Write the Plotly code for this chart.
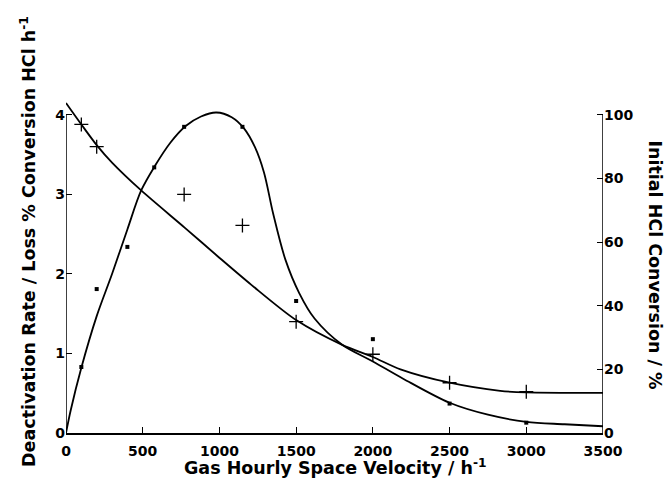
import plotly.graph_objects as go

# Smooth fitted curves
curve_conv_x = [0, 100, 200, 300, 490, 775, 990, 1210, 1500, 1800, 2000, 2180, 2500, 2830, 3000, 3500]
curve_conv_y = [103.75, 97, 90.5, 85, 76.25, 64.5, 55.5, 46.5, 35.5, 27.7, 23.9, 20, 15.8, 13.25, 12.75, 12.6]  # %

curve_deact_x = [0, 30, 100, 200, 300, 400, 490, 580, 680, 780, 880, 980, 1080, 1160, 1230, 1290, 1350,
                 1430, 1520, 1620, 1800, 2000, 2200, 2500, 2750, 3000, 3250, 3500]
curve_deact_y = [0, 0.28, 0.82, 1.47, 2.0, 2.56, 3.05, 3.36, 3.65, 3.86, 3.98, 4.03, 3.97, 3.83, 3.6, 3.28, 2.76,
                 2.18, 1.76, 1.44, 1.11, 0.9, 0.68, 0.38, 0.23, 0.14, 0.11, 0.085]

# Measured points
conv_pts_x = [100, 200, 770, 1150, 1500, 2000, 2500, 3000]
conv_pts_y = [97, 90, 75, 65.25, 35, 24.75, 15.8, 13]  # %

deact_pts_x = [100, 200, 400, 575, 770, 1150, 1500, 2000, 2500, 3000]
deact_pts_y = [0.83, 1.81, 2.34, 3.34, 3.85, 3.85, 1.66, 1.18, 0.37, 0.13]

x_ticks = [0, 500, 1000, 1500, 2000, 2500, 3000, 3500]
left_ticks = [0, 1, 2, 3, 4]
right_ticks = [0, 20, 40, 60, 80, 100]

FONT = "DejaVu Sans"
tickfont = dict(family=FONT, size=14, color="black", weight="bold")
titlefont = dict(family=FONT, size=17.5, color="black", weight="bold")

fig = go.Figure()
fig.add_trace(go.Scatter(x=curve_deact_x, y=curve_deact_y, mode="lines",
                         line=dict(color="black", width=1.8, shape="spline", smoothing=0.9),
                         yaxis="y", showlegend=False, hoverinfo="skip"))
fig.add_trace(go.Scatter(x=curve_conv_x, y=curve_conv_y, mode="lines",
                         line=dict(color="black", width=1.8, shape="spline", smoothing=0.8),
                         yaxis="y2", showlegend=False, hoverinfo="skip"))
fig.add_trace(go.Scatter(x=deact_pts_x, y=deact_pts_y, mode="markers",
                         marker=dict(symbol="square", size=4, color="black"),
                         yaxis="y", showlegend=False))
fig.add_trace(go.Scatter(x=conv_pts_x, y=conv_pts_y, mode="markers",
                         marker=dict(symbol="cross-thin", size=10, line=dict(color="black", width=1.3)),
                         yaxis="y2", showlegend=False))

LMAX = 4.2
fig.update_layout(
    width=670, height=487,
    margin=dict(l=66, r=67, t=99, b=54),
    paper_bgcolor="white", plot_bgcolor="white",
    xaxis=dict(range=[0, 3500], tickvals=x_ticks, ticks="inside", ticklen=6, tickcolor="black",
               showline=True, linecolor="black", linewidth=1.5, showgrid=False, zeroline=False,
               tickfont=tickfont, ticklabelstandoff=4),
    yaxis=dict(range=[0, LMAX], tickvals=left_ticks, ticks="inside", ticklen=6, tickcolor="black",
               showline=False, showgrid=False, zeroline=False, tickfont=tickfont),
    yaxis2=dict(range=[0, LMAX * 25], tickvals=right_ticks, ticks="inside", ticklen=6, tickcolor="black",
                overlaying="y", side="right", showline=False, showgrid=False, zeroline=False,
                tickfont=tickfont),
    shapes=[
        dict(type="line", xref="x", yref="y", x0=0, x1=0, y0=0, y1=4, line=dict(color="black", width=1.5)),
        dict(type="line", xref="x", yref="y2", x0=3500, x1=3500, y0=0, y1=100, line=dict(color="black", width=1.5)),
    ],
    annotations=[
        dict(text="Gas Hourly Space Velocity / h<sup>-1</sup>", xref="paper", yref="paper",
             x=0.501, y=-0.102, xanchor="center", yanchor="middle", showarrow=False, font=titlefont),
        dict(text="Deactivation Rate / Loss % Conversion HCl h<sup>-1</sup>", xref="paper", yref="paper",
             x=-0.0708, y=0.575, xanchor="center", yanchor="middle", textangle=-90, showarrow=False,
             font=titlefont),
        dict(text="Initial HCl Conversion / %", xref="paper", yref="paper",
             x=1.096, y=0.503, xanchor="center", yanchor="middle", textangle=90, showarrow=False,
             font=titlefont),
    ],
)

fig.write_html("out.html")
